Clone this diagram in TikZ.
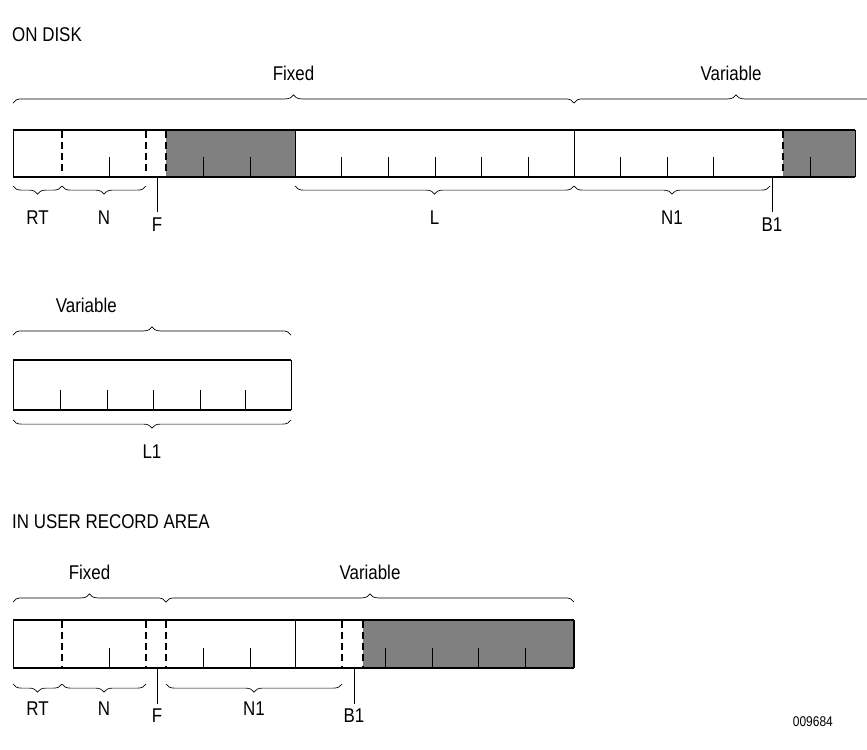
\documentclass[tikz,border=0pt]{standalone}
\usepackage{fontspec}
\setmainfont{Liberation Sans}
\usetikzlibrary{decorations.pathreplacing}
\usetikzlibrary{positioning}

\begin{document}
\begin{tikzpicture}[x=0.03cm,y=-0.03cm]
	\tikzset{
		lbl/.style={font=\fontsize{17}{19}\selectfont, inner sep=0pt, xscale=0.85},
		barline/.style={line width=2.4pt},
		sep/.style={semithick},
		dsep/.style={line width=1.3pt, dash pattern=on 6pt off 3.5pt},
		tick/.style={semithick},
		grey/.style={fill=black!50},
		bup/.style={decorate, decoration={brace, amplitude=7pt}, semithick},
		bdown/.style={decorate, decoration={brace, amplitude=7pt, mirror}, semithick},
	}
	\useasboundingbox (0,0) rectangle (867,749);

	% ON DISK
	\node[lbl, anchor=west] (disk) at (12,35) {ON DISK};
	\fill[grey] (166,130) rectangle (295,177);
	\fill[grey] (783,130) rectangle (855,177);
	\draw[barline] (13,130) -- (855,130) (13,177) -- (855,177);
	\draw[sep] (13,130) -- (13,177) (295,130) -- (295,177) (574,130) -- (574,177) (855,130) -- (855,177);
	\foreach \x in {62,146,166,783} \draw[dsep] (\x,131) -- (\x,176);
	\foreach \x in {109,203,250,341,388,435,481,528,620,667,713,810} \draw[tick] (\x,157) -- (\x,177);
	\draw[bup] (13,103) -- node[lbl, above=19pt] (fixA) {Fixed} (574,103);
	\draw[bup] (574,103) -- node[lbl, above=19pt, xshift=-5pt] (varA) {Variable} (898,103);
	\draw[bdown] (13,186) -- node[lbl, below=21pt] (rtA) {RT} (62,186);
	\draw[bdown] (62,186) -- node[lbl, below=21pt] (nA) {N} (146,186);
	\draw[bdown] (295,186) -- node[lbl, below=21pt] (lA) {L} (574,186);
	\draw[bdown] (574,186) -- node[lbl, below=21pt] (n1A) {N1} (770,186);
	\node[lbl] (fA) at (157,225) {F};
	\node[lbl] (b1A) at (772,225) {B1};
	\draw[tick] (157,177) -- (157,212);
	\draw[tick] (772,177) -- (772,212);

	% second part
	\draw[barline] (13,360) -- (291,360) (13,410) -- (291,410);
	\draw[sep] (13,360) -- (13,410) (291,360) -- (291,410);
	\foreach \x in {60,107,153,200,245} \draw[tick] (\x,390) -- (\x,410);
	\draw[bup] (13,335) -- node[lbl, above=19pt, xshift=-66pt] (varB) {Variable} (291,335);
	\draw[bdown] (13,420) -- node[lbl, below=21pt] (l1B) {L1} (291,420);

	% IN USER RECORD AREA
	\node[lbl, anchor=west] (user) at (12,522) {IN USER RECORD AREA};
	\fill[grey] (363,620) rectangle (574,668);
	\draw[barline] (13,620) -- (574,620) (13,668) -- (574,668);
	\draw[sep] (13,620) -- (13,668) (295,620) -- (295,668);
	\draw[line width=1.6pt] (574,620) -- (574,668);
	\foreach \x in {62,146,166,342,363} \draw[dsep] (\x,621) -- (\x,667);
	\foreach \x in {109,203,250,385,432,478,525} \draw[tick] (\x,648) -- (\x,668);
	\draw[bup] (13,602) -- node[lbl, above=19pt] (fixC) {Fixed} (166,602);
	\draw[bup] (166,602) -- node[lbl, above=19pt] (varC) {Variable} (574,602);
	\draw[bdown] (13,684) -- node[lbl, below=15pt] (rtC) {RT} (62,684);
	\draw[bdown] (62,684) -- node[lbl, below=15pt] (nC) {N} (146,684);
	\draw[bdown] (166,684) -- node[lbl, below=15pt] (n1C) {N1} (342,684);
	\node[lbl] (fC) at (157,716) {F};
	\node[lbl] (b1C) at (354,716) {B1};
	\draw[tick] (157,668) -- (157,704);
	\draw[tick] (354,668) -- (354,704);
	\node[lbl, font=\fontsize{12}{14}\selectfont, anchor=east] (code) at (833,722) {009684};
\end{tikzpicture}
\end{document}
